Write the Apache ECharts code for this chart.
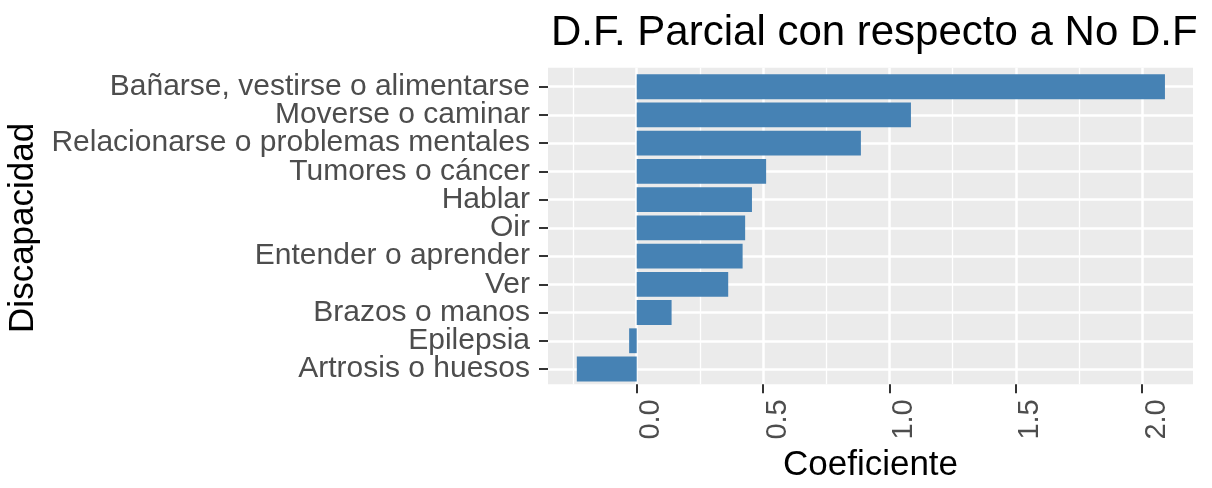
<!DOCTYPE html>
<html>
<head>
<meta charset="utf-8">
<script src="https://cdn.jsdelivr.net/npm/echarts@6/dist/echarts.min.js"></script>
<style>
html,body{margin:0;padding:0;background:#fff;}
#chart{width:1212px;height:488px;}
</style>
</head>
<body>
<div id="chart"></div>
<script>
// Data (top to bottom as displayed)
const categories = [
  "Bañarse, vestirse o alimentarse",
  "Moverse o caminar",
  "Relacionarse o problemas mentales",
  "Tumores o cáncer",
  "Hablar",
  "Oir",
  "Entender o aprender",
  "Ver",
  "Brazos o manos",
  "Epilepsia",
  "Artrosis o huesos"
];
const coeficientes = [2.09, 1.085, 0.887, 0.512, 0.456, 0.429, 0.419, 0.362, 0.138, -0.030, -0.237];
const majorTicks = [0, 0.5, 1.0, 1.5, 2.0];
const minorTicks = [-0.25, 0.25, 0.75, 1.25, 1.75];
const xMin = -0.351, xMax = 2.201;

const chart = echarts.init(document.getElementById('chart'), null, {renderer: 'canvas'});
const FONT = '"Liberation Sans", Arial, sans-serif';

const option = {
  backgroundColor: '#ffffff',
  animation: false,
  title: {
    text: 'D.F. Parcial con respecto a No D.F',
    left: 546,
    top: 7,
    textStyle: {fontFamily: FONT, fontSize: 42, fontWeight: 'normal', color: '#000000'}
  },
  grid: [
    {left: 548, right: 19, top: 67.7, bottom: 103.7, show: true, backgroundColor: '#EBEBEB', borderWidth: 0, containLabel: false, outerBoundsMode: 'none'},
    {left: 548, right: 19, top: 72.6, bottom: 104.9, show: false, containLabel: false, outerBoundsMode: 'none'}
  ],
  xAxis: [
    {
      gridIndex: 0, type: 'value', min: xMin, max: xMax,
      axisLine: {show: false, onZero: false},
      axisTick: {show: true, customValues: majorTicks, length: 9, lineStyle: {color: '#333333', width: 2}},
      axisLabel: {show: true, customValues: majorTicks, rotate: 90, margin: 15, verticalAlign: 'top',
        fontFamily: FONT, fontSize: 29, color: '#4D4D4D',
        formatter: v => v.toFixed(1)},
      splitLine: {show: true, lineStyle: {color: '#FFFFFF', width: 2.5}},
      name: 'Coeficiente', nameLocation: 'middle', nameGap: 61,
      nameTextStyle: {fontFamily: FONT, fontSize: 35, color: '#000000', verticalAlign: 'top'}
    },
    {
      gridIndex: 0, type: 'value', min: xMin, max: xMax,
      axisLine: {show: false, onZero: false},
      axisTick: {show: false, customValues: minorTicks},
      axisLabel: {show: false, customValues: minorTicks},
      splitLine: {show: true, lineStyle: {color: '#FFFFFF', width: 1.3}}
    },
    {
      gridIndex: 1, type: 'value', min: xMin, max: xMax,
      axisLine: {show: false, onZero: false}, axisTick: {show: false}, axisLabel: {show: false},
      splitLine: {show: false}
    }
  ],
  yAxis: [
    {gridIndex: 0, type: 'value', min: 0, max: 1, show: false, axisLine: {onZero: false}},
    {
      gridIndex: 1, type: 'category', data: categories, inverse: true,
      axisLine: {show: false, onZero: false},
      axisTick: {show: true, interval: 0, alignWithLabel: true, length: 9, lineStyle: {color: '#333333', width: 2}},
      axisLabel: {interval: 0, fontFamily: FONT, fontSize: 30, color: '#4D4D4D', margin: 18},
      splitLine: {show: true, interval: 0, alignWithLabel: true, lineStyle: {color: '#FFFFFF', width: 2.5}},
      name: 'Discapacidad', nameLocation: 'middle', nameGap: 495, nameRotate: 90,
      nameTextStyle: {fontFamily: FONT, fontSize: 35, color: '#000000'}
    }
  ],
  series: [{
    type: 'bar',
    xAxisIndex: 2, yAxisIndex: 1,
    data: coeficientes,
    barWidth: '88%',
    itemStyle: {color: '#4682B4'},
    silent: true
  }]
};
chart.setOption(option);
</script>
</body>
</html>
